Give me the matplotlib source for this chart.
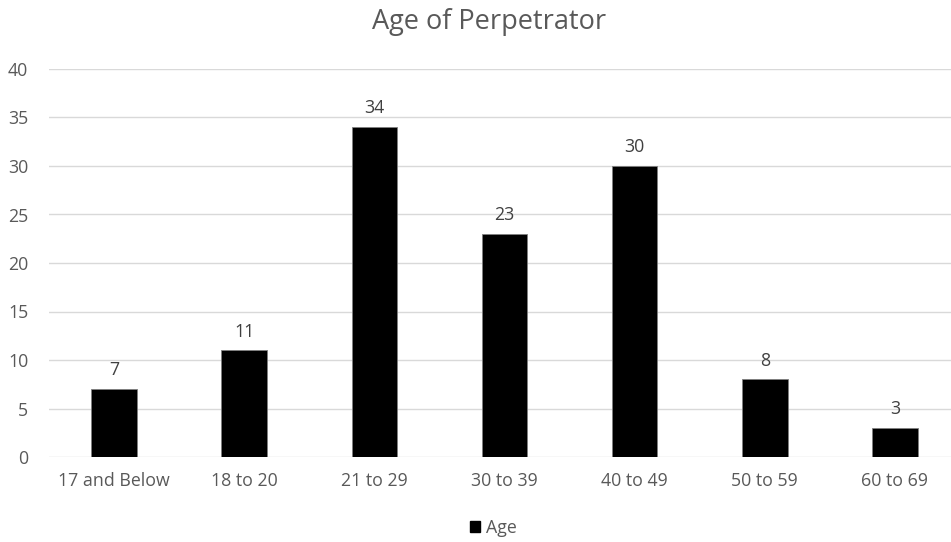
import matplotlib
matplotlib.use("Agg")
import matplotlib.pyplot as plt
from matplotlib.patches import Patch

categories = ["17 and Below", "18 to 20", "21 to 29", "30 to 39", "40 to 49", "50 to 59", "60 to 69"]
values = [7, 11, 34, 23, 30, 8, 3]
series_name = "Age"
yticks = [0, 5, 10, 15, 20, 25, 30, 35, 40]

plt.rcParams['font.family'] = ['Open Sans', 'DejaVu Sans']
gray = "#595959"

fig = plt.figure(figsize=(9.51, 5.42), dpi=100)
ax = fig.add_axes([49/951, 1-457/542, (951-49)/951, (457-69)/542])
x = list(range(len(categories)))
bars = ax.bar(x, values, width=0.35, color="black", edgecolor="#7f7f7f", linewidth=0.6, zorder=3)
for xi, v in zip(x, values):
    ax.annotate(str(v), (xi, v), xytext=(0, 7), textcoords="offset points",
                ha="center", va="bottom", fontsize=12.8, color="#404040")
ax.set_xlim(-0.5, 6.5 - 9/130)
ax.set_ylim(0, 40)
ax.set_yticks(yticks)
ax.set_xticks(x)
ax.set_xticklabels(categories)
ax.grid(axis="y", color="#d9d9d9", linewidth=1, zorder=0)
for s in ax.spines.values():
    s.set_visible(False)
ax.tick_params(axis="both", length=0, labelsize=12.8, labelcolor=gray)
ax.tick_params(axis="x", pad=11)
ax.tick_params(axis="y", pad=15)
for lab in ax.get_yticklabels():
    lab.set_horizontalalignment("right")
fig.text(489/951, 1-22/542, "Age of Perpetrator", ha="center", va="center", fontsize=19.5, color=gray)
fig.legend(handles=[Patch(facecolor="black", edgecolor="black")], labels=[series_name],
           loc="center", bbox_to_anchor=(493/951, 1-528/542), frameon=False,
           fontsize=12.8, labelcolor=gray, handlelength=0.6, handleheight=0.6, handletextpad=0.3)
fig.savefig("out.png", dpi=100)
